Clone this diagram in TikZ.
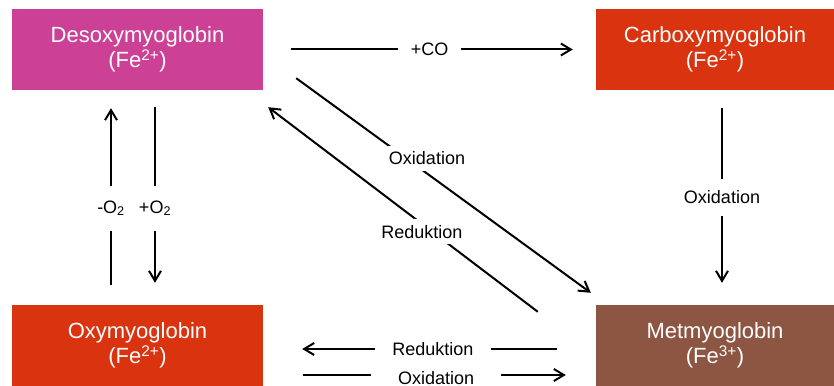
\documentclass[tikz,border=0pt]{standalone}
\usepackage{fontspec}
\setmainfont{Liberation Sans}
\usepackage{xcolor}
\usetikzlibrary{arrows.meta}

\definecolor{desoxycol}{RGB}{204,65,150}
\definecolor{redcol}{RGB}{217,51,16}
\definecolor{metcol}{RGB}{140,86,66}

\begin{document}
\begin{tikzpicture}[x=1pt,y=1pt,
  box/.style={minimum height=81pt, text=white, align=center, inner sep=0pt,
    font=\fontsize{22}{25}\selectfont},
  arr/.style={line width=2pt, -{Straight Barb[length=10pt,width=12pt]}},
  lbl/.style={fill=white, font=\fontsize{18}{20}\selectfont}]

\useasboundingbox (0,0) rectangle (834,385);

% Top row of boxes
\node[box, fill=desoxycol, minimum width=251pt] (desoxy) at (137.5,335.5) {Desoxymyoglobin\\(Fe\textsuperscript{2+})};
\node[box, fill=redcol, minimum width=238pt] (carboxy) at (715,335.5) {Carboxymyoglobin\\(Fe\textsuperscript{2+})};

% Bottom row of boxes
\node[box, fill=redcol, minimum width=251pt] (oxy) at (137.5,39.5) {Oxymyoglobin\\(Fe\textsuperscript{2+})};
\node[box, fill=metcol, minimum width=238pt] (met) at (715,39.5) {Metmyoglobin\\(Fe\textsuperscript{3+})};

% Horizontal arrows
\draw[arr, shorten <=28pt, shorten >=23pt] (desoxy) -- node[lbl, inner xsep=13pt] {+CO} (carboxy);
\draw[arr, shorten <=39pt, shorten >=39pt] ([yshift=-3.5pt]met.west) -- node[lbl, pos=0.49, inner xsep=17.5pt] {Reduktion} ([yshift=-3.5pt]oxy.east);
\draw[arr, shorten <=40pt, shorten >=30pt] ([yshift=-29.5pt]oxy.east) -- node[lbl, pos=0.52, yshift=-3pt, inner xsep=27pt] {Oxidation} ([yshift=-29.5pt]met.west);

% Vertical arrows
\draw[arr, shorten <=20pt, shorten >=18pt] ([xshift=-26.5pt]oxy.north) -- node[lbl, pos=0.45, inner xsep=2pt, inner ysep=15pt] {-O\textsubscript{2}} ([xshift=-26.5pt]desoxy.south);
\draw[arr, shorten <=17pt, shorten >=22pt] ([xshift=17.5pt]desoxy.south) -- node[lbl, pos=0.55, inner xsep=2pt, inner ysep=15pt] {+O\textsubscript{2}} ([xshift=17.5pt]oxy.north);
\draw[arr, shorten <=18pt, shorten >=22pt] ([xshift=7pt]carboxy.south) -- node[lbl, inner xsep=2pt, inner ysep=12pt] {Oxidation} ([xshift=7pt]met.north);

% Diagonal arrows
\draw[arr] ([shift={(33,12)}]desoxy.south east) -- node[lbl, pos=0.444, yshift=15pt, inner sep=6pt] {Oxidation} ([shift={(-5,12)}]met.north west);
\draw[arr] ([shift={(-58,-7)}]met.north west) -- node[lbl, pos=0.43, yshift=-8pt, inner sep=6pt] {Reduktion} ([shift={(5,-17)}]desoxy.south east);

\end{tikzpicture}
\end{document}
